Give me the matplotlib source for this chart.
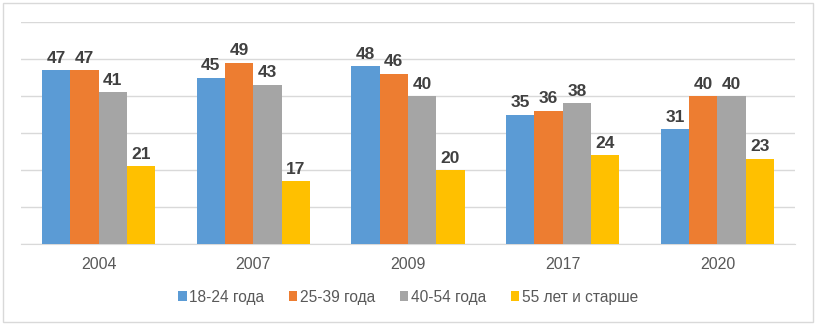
import numpy as np
import matplotlib
matplotlib.use("Agg")
import matplotlib.pyplot as plt
from matplotlib.patches import Rectangle

plt.rcParams['font.family'] = ['Liberation Sans', 'DejaVu Sans']

# data
years = ['2004', '2007', '2009', '2017', '2020']
series_names = ['18-24 года', '25-39 года', '40-54 года', '55 лет и старше']
age_18_24 = [47, 45, 48, 35, 31]
age_25_39 = [47, 49, 46, 36, 40]
age_40_54 = [41, 43, 40, 38, 40]
age_55_plus = [21, 17, 20, 24, 23]
colors = ['#5B9BD5', '#ED7D31', '#A5A5A5', '#FFC000']

all_series = [age_18_24, age_25_39, age_40_54, age_55_plus]

fig = plt.figure(figsize=(8.16, 3.24), dpi=100)
ax = fig.add_axes([0.026, 0.247, 0.948, 0.685])

x = np.arange(len(years))
w = 0.183
for i, (vals, name, c) in enumerate(zip(all_series, series_names, colors)):
    pos = x + (i - 1.5) * w
    ax.bar(pos, vals, width=w, color=c, label=name, zorder=3)
    for px, v in zip(pos, vals):
        ax.text(px, v + 1.2, str(v), ha='center', va='bottom',
                fontsize=12.5, fontweight='bold', color='#404040')

ax.set_ylim(0, 60)
ax.set_xlim(-0.5, len(years) - 0.5)
ax.set_yticks(np.arange(0, 61, 10))
ax.yaxis.grid(True, color='#D9D9D9', linewidth=1, zorder=0)
ax.tick_params(axis='y', left=False, labelleft=False)
ax.tick_params(axis='x', bottom=False, labelsize=11.5, labelcolor='#595959', pad=6)
ax.set_xticks(x)
ax.set_xticklabels(years)
for s in ['top', 'left', 'right']:
    ax.spines[s].set_visible(False)
ax.spines['bottom'].set_color('#D9D9D9')

leg = fig.legend(loc='center', bbox_to_anchor=(0.5, 0.083), ncol=4, frameon=False,
                 fontsize=11.2, handlelength=0.55, handleheight=0.55, handletextpad=0.15,
                 columnspacing=1.6)
for t in leg.get_texts():
    t.set_color('#595959')

# outer border of the chart
fig.patches.append(Rectangle((0.0037, 0.006), 0.9926, 0.985, transform=fig.transFigure,
                             fill=False, edgecolor='#D9D9D9', linewidth=1))

fig.savefig('out.png', dpi=100)
